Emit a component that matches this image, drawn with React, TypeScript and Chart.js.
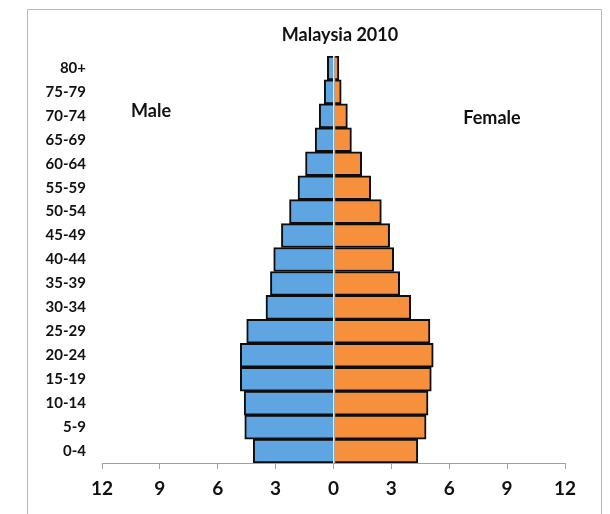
import React, { useEffect, useRef } from "react";
import { Chart, registerables } from "chart.js";

Chart.register(...registerables);

const ageGroups = ["0-4", "5-9", "10-14", "15-19", "20-24", "25-29", "30-34", "35-39", "40-44", "45-49", "50-54", "55-59", "60-64", "65-69", "70-74", "75-79", "80+"];
const maleValues = [4.16, 4.6, 4.63, 4.83, 4.83, 4.5, 3.5, 3.27, 3.1, 2.7, 2.28, 1.84, 1.45, 0.95, 0.74, 0.48, 0.32];
const femaleValues = [4.37, 4.8, 4.9, 5.07, 5.17, 5.0, 4.0, 3.43, 3.12, 2.91, 2.48, 1.93, 1.46, 0.93, 0.72, 0.4, 0.28];
const xTickValues = [-12, -9, -6, -3, 0, 3, 6, 9, 12];
const titleText = "Malaysia 2010";
const maleLabel = "Male";
const femaleLabel = "Female";

const FONT = "Lato, 'Open Sans', sans-serif";

const decorPlugin = {
  id: "decor",
  beforeDraw(chart: any) {
    const ctx = chart.ctx;
    ctx.save();
    ctx.strokeStyle = "#b8b8b8";
    ctx.lineWidth = 1;
    ctx.beginPath();
    ctx.moveTo(27.5, 514);
    ctx.lineTo(27.5, 9.5);
    ctx.lineTo(601.5, 9.5);
    ctx.lineTo(601.5, 514);
    ctx.stroke();
    ctx.restore();
  },
  afterDatasetsDraw(chart: any) {
    const ctx = chart.ctx;
    const xs = chart.scales.x;
    const area = chart.chartArea;
    const x0 = Math.round(xs.getPixelForValue(0)) + 0.5;
    ctx.save();
    ctx.strokeStyle = "#a8a8a8";
    ctx.lineWidth = 1.5;
    ctx.beginPath();
    ctx.moveTo(x0, area.top);
    ctx.lineTo(x0, area.bottom);
    ctx.stroke();

    ctx.fillStyle = "#111";
    ctx.textAlign = "center";
    ctx.textBaseline = "middle";
    ctx.font = `bold 18px ${FONT}`;
    ctx.fillText(titleText, 340, 35);
    ctx.font = `bold 18px ${FONT}`;
    ctx.fillText(maleLabel, 151, 111);
    ctx.fillText(femaleLabel, 492, 118);
    ctx.restore();
  },
};

export default function App() {
  const canvasRef = useRef<HTMLCanvasElement | null>(null);

  useEffect(() => {
    if (!canvasRef.current) return;
    const chart = new Chart(canvasRef.current, {
      type: "bar",
      data: {
        labels: ageGroups,
        datasets: [
          {
            label: "Male",
            data: maleValues.map((v) => -v),
            backgroundColor: "#5ea5e2",
            borderColor: "#0d0d0d",
            borderWidth: 2,
            barPercentage: 1,
            categoryPercentage: 1,
          },
          {
            label: "Female",
            data: femaleValues,
            backgroundColor: "#f6903d",
            borderColor: "#0d0d0d",
            borderWidth: 2,
            barPercentage: 1,
            categoryPercentage: 1,
          },
        ],
      },
      options: {
        indexAxis: "y",
        animation: false,
        responsive: false,
        maintainAspectRatio: false,
        layout: { padding: { top: 56, right: 45, bottom: 0, left: 0 } },
        plugins: {
          legend: { display: false },
          title: { display: false },
          tooltip: { enabled: false },
        },
        scales: {
          x: {
            stacked: true,
            min: -12,
            max: 12,
            afterBuildTicks: (scale: any) => {
              scale.ticks = xTickValues.map((v) => ({ value: v }));
            },
            afterFit: (scale: any) => {
              scale.height = 51;
            },
            ticks: {
              callback: (v: any) => String(Math.abs(Number(v))),
              font: { family: FONT, size: 19, weight: "bold" },
              color: "#111",
              padding: 8,
              maxRotation: 0,
            },
            grid: {
              display: true,
              drawOnChartArea: false,
              drawTicks: true,
              tickLength: 6,
              color: "#a0a0a0",
            },
            border: { display: true, color: "#a0a0a0", width: 1 },
          },
          y: {
            stacked: true,
            reverse: true,
            afterFit: (scale: any) => {
              scale.width = 102;
            },
            ticks: {
              font: { family: FONT, size: 15, weight: "bold" },
              color: "#111",
              padding: 16,
              autoSkip: false,
            },
            grid: { display: false, drawTicks: false },
            border: { display: false },
          },
        },
      },
      plugins: [decorPlugin],
    });
    return () => chart.destroy();
  }, []);

  return (
    <div style={{ position: "fixed", left: 0, top: 0, width: 610, height: 514, background: "#fff" }}>
      <canvas ref={canvasRef} width={610} height={514} style={{ display: "block" }} />
    </div>
  );
}
